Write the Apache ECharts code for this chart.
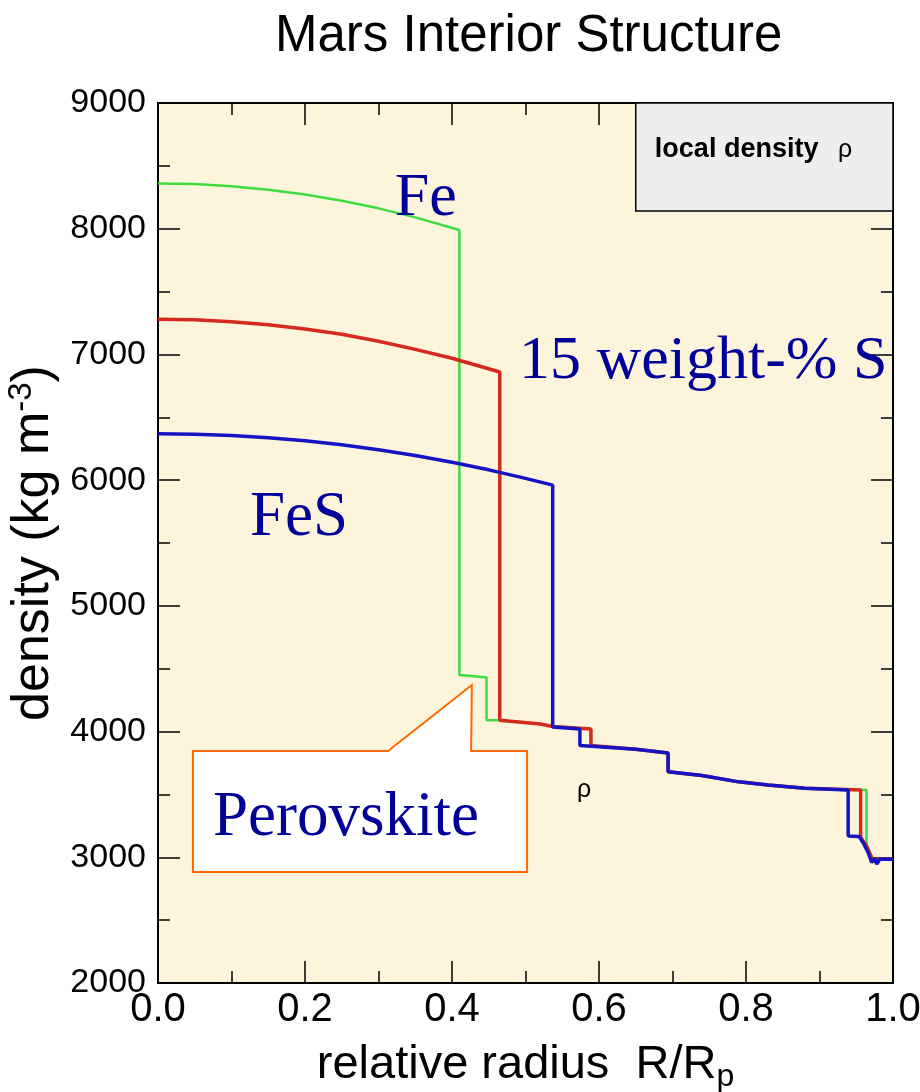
<!DOCTYPE html>
<html><head><meta charset="utf-8">
<script src="https://cdn.jsdelivr.net/npm/echarts@6/dist/echarts.min.js"></script>
<style>html,body{margin:0;padding:0;background:#fff}#c{width:920px;height:1092px}</style>
</head><body><div id="c"></div>
<script>
// ---- data ----
const chartTitle = 'Mars Interior Structure';
const xTicks = [0, 0.2, 0.4, 0.6, 0.8, 1.0];
const yTicks = [2000, 3000, 4000, 5000, 6000, 7000, 8000, 9000];

// Fe core model (green)
const feRadius  = [0, 0.05, 0.1, 0.15, 0.2, 0.25, 0.3, 0.35, 0.41, 0.41, 0.43, 0.447, 0.447, 0.465, 0.52, 0.537, 0.589, 0.589, 0.65, 0.694, 0.694, 0.74, 0.79, 0.83, 0.88, 0.964, 0.964, 0.973, 0.98, 1.0];
const feDensity = [8360, 8355, 8338, 8310, 8272, 8222, 8162, 8090, 7990, 4450, 4440, 4430, 4090, 4090, 4060, 4040, 4020, 3890, 3860, 3830, 3680, 3650, 3600, 3575, 3550, 3535, 3100, 2970, 2985, 2985];

// 15 weight-% S core model (red)
const sRadius  = [0, 0.05, 0.1, 0.15, 0.2, 0.25, 0.3, 0.35, 0.4, 0.465, 0.465, 0.52, 0.537, 0.589, 0.589, 0.65, 0.694, 0.694, 0.74, 0.79, 0.83, 0.88, 0.956, 0.956, 0.964, 0.973, 0.98, 1.0];
const sDensity = [7280, 7275, 7260, 7236, 7202, 7160, 7105, 7040, 6970, 6860, 4090, 4060, 4040, 4020, 3890, 3860, 3830, 3680, 3650, 3600, 3575, 3550, 3535, 3160, 3090, 2970, 2985, 2985];

// FeS core model (blue)
const fesRadius  = [0, 0.05, 0.1, 0.15, 0.2, 0.25, 0.3, 0.35, 0.4, 0.45, 0.5, 0.537, 0.537, 0.574, 0.574, 0.65, 0.694, 0.694, 0.74, 0.79, 0.83, 0.88, 0.939, 0.939, 0.954, 0.96, 0.966, 0.971, 0.975, 0.978, 0.982, 1.0];
const fesDensity = [6370, 6366, 6356, 6338, 6313, 6281, 6242, 6196, 6142, 6082, 6014, 5960, 4036, 4020, 3890, 3860, 3830, 3680, 3650, 3600, 3575, 3550, 3535, 3170, 3165, 3110, 3040, 2960, 2990, 2945, 2985, 2985];

// ---- helpers ----
const pairs = (xs, ys) => xs.map((x, i) => [x, ys[i]]);

const chart = echarts.init(document.getElementById('c'), null, {renderer: 'canvas'});
const SANS = 'Liberation Sans, Arial, Helvetica, sans-serif';
const SERIF = 'Liberation Serif, Times New Roman, serif';

const tickStyle = {show: true, inside: true, length: 22, lineStyle: {color: '#000', width: 1.5}};
const minorStyle = {show: true, splitNumber: 2, length: 12, lineStyle: {color: '#000', width: 1.5}};

chart.setOption({
  animation: false,
  backgroundColor: '#ffffff',
  title: {
    text: chartTitle, left: 270, top: 6,
    textStyle: {fontFamily: SANS, fontSize: 51, fontWeight: 'normal', color: '#000'}
  },
  grid: {left: 158, right: 27, top: 103, bottom: 109, show: true, outerBoundsMode: 'none',
         backgroundColor: '#fcf5dc', borderColor: '#000', borderWidth: 2, containLabel: false},
  xAxis: [{
    type: 'value', min: xTicks[0], max: xTicks[xTicks.length - 1], interval: 0.2,
    axisLine: {show: true, onZero: false, lineStyle: {color: '#000', width: 2}},
    axisTick: tickStyle, minorTick: minorStyle, splitLine: {show: false},
    axisLabel: {fontFamily: SANS, fontSize: 40, color: '#000', margin: 7,
                formatter: v => v.toFixed(1)},
    name: 'relative radius  R/R{sub|p}', nameLocation: 'middle', nameGap: 54,
    nameTextStyle: {fontFamily: SANS, fontSize: 47, color: '#000',
      rich: {sub: {fontFamily: SANS, fontSize: 32, color: '#000', padding: [24, 0, 0, 0]}}}
  }, {
    type: 'value', position: 'top', min: 0, max: 1, interval: 0.2,
    axisLine: {show: false, onZero: false}, axisTick: tickStyle, minorTick: minorStyle,
    axisLabel: {show: false}, splitLine: {show: false}
  }],
  yAxis: [{
    type: 'value', min: yTicks[0], max: yTicks[yTicks.length - 1], interval: 1000,
    axisLine: {show: true, onZero: false, lineStyle: {color: '#000', width: 2}},
    axisTick: tickStyle, minorTick: minorStyle, splitLine: {show: false},
    axisLabel: {fontFamily: SANS, fontSize: 34, color: '#000', margin: 12, formatter: v => String(v)},
    name: 'density (kg m{sup|-3})', nameLocation: 'middle', nameGap: 93, nameRotate: 90,
    nameTextStyle: {fontFamily: SANS, fontSize: 52, color: '#000',
      rich: {sup: {fontFamily: SANS, fontSize: 33, color: '#000', padding: [0, 0, 24, 0]}}}
  }, {
    type: 'value', position: 'right', min: 2000, max: 9000, interval: 1000,
    axisLine: {show: false, onZero: false}, axisTick: tickStyle, minorTick: minorStyle,
    axisLabel: {show: false}, splitLine: {show: false}
  }],
  series: [
    {name: 'Fe', type: 'line', data: pairs(feRadius, feDensity), showSymbol: false, symbol: 'none',
     lineStyle: {color: '#3fdc3f', width: 2.5}, z: 2},
    {name: '15 weight-% S', type: 'line', data: pairs(sRadius, sDensity), showSymbol: false, symbol: 'none',
     lineStyle: {color: '#d42a1e', width: 3.5}, z: 3},
    {name: 'FeS', type: 'line', data: pairs(fesRadius, fesDensity), showSymbol: false, symbol: 'none',
     lineStyle: {color: '#1414c4', width: 3.5}, z: 4}
  ]
});

// ---- annotations (anchor = text baseline, in data coordinates) ----
const P = (x, y) => chart.convertToPixel({gridIndex: 0}, [x, y]);
const annBlue = '#000099';
const graphics = [];
function addText(text, at, font, size, fill, weight) {
  const p = P(at[0], at[1]);
  graphics.push({type: 'text', x: p[0], y: p[1] + 0.2 * size, z: 20,
    style: {text: text, fill: fill, font: (weight ? weight + ' ' : '') + size + 'px ' + font,
            align: 'left', verticalAlign: 'bottom'}});
}
// Perovskite callout box
const cb = [P(0.0476, 3845), P(0.313, 3845), P(0.427, 4370), P(0.426, 3845), P(0.502, 3845), P(0.502, 2882), P(0.0476, 2882)];
graphics.push({type: 'polygon', z: 15, shape: {points: cb},
  style: {fill: '#ffffff', stroke: '#ff6a00', lineWidth: 2}});
// legend box
const l1 = P(0.650, 9000), l2 = P(1.0, 8141);
graphics.push({type: 'rect', z: 15, shape: {x: l1[0], y: l1[1], width: l2[0] - l1[0], height: l2[1] - l1[1]},
  style: {fill: '#eeeeee', stroke: '#000', lineWidth: 1.5}});

addText('Fe', [0.322, 8093], SERIF, 62, annBlue);
addText('15 weight-% S', [0.491, 6796], SERIF, 62, annBlue);
addText('FeS', [0.125, 5547], SERIF, 63, annBlue);
addText('Perovskite', [0.0748, 3161], SERIF, 63, annBlue);
addText('ρ', [0.570, 3471], SANS, 25, '#000');
addText('local density', [0.676, 8562], SANS, 27, '#000', 'bold');
addText('ρ', [0.925, 8562], SANS, 25, '#000');
chart.setOption({graphic: graphics});
</script>
</body></html>
